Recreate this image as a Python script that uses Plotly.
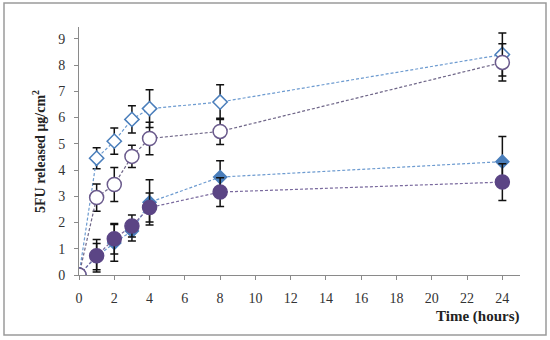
import plotly.graph_objects as go

# ---- data ----
time = [0, 1, 2, 3, 4, 8, 24]

open_diamond = [0, 4.45, 5.1, 5.93, 6.34, 6.59, 8.40]
open_diamond_err = [0, 0.4, 0.5, 0.52, 0.72, 0.66, 0.82]

open_circle = [0, 2.95, 3.45, 4.52, 5.2, 5.47, 8.10]
open_circle_err = [0, 0.52, 0.65, 0.42, 0.62, 0.5, 0.71]

filled_diamond = [0, 0.7, 1.22, 1.68, 2.77, 3.73, 4.32]
filled_diamond_err = [0, 0.5, 0.7, 0.38, 0.86, 0.62, 0.96]

filled_circle = [0, 0.73, 1.38, 1.87, 2.57, 3.16, 3.54]
filled_circle_err = [0, 0.62, 0.58, 0.42, 0.55, 0.55, 0.70]

x_ticks = list(range(0, 25, 2))
y_ticks = list(range(0, 10))

FONT = "Liberation Serif"
BLUE = "#4a7ebb"
PURPLE = "#5b4585"

fig = go.Figure()

def add(y, err, symbol, fill, lcolor, size, line_color):
    fig.add_trace(go.Scatter(
        x=time, y=y, mode="lines+markers",
        line=dict(color=line_color, width=1.2, dash="3px,2px"),
        marker=dict(symbol=symbol, size=size, color=fill,
                    line=dict(color=lcolor, width=1.5)),
        error_y=dict(type="data", array=err, color="#111111", thickness=1.5, width=4),
        showlegend=False,
    ))

add(filled_diamond, filled_diamond_err, "diamond", BLUE, BLUE, 10, "#6d9bd0")
add(filled_circle, filled_circle_err, "circle", PURPLE, PURPLE, 14, "#7a6a9e")
add(open_diamond, open_diamond_err, "diamond", "white", BLUE, 11, "#6d9bd0")
add(open_circle, open_circle_err, "circle", "white", "#6a5a8c", 14, "#6f6688")

L, R, T, B = 79, 30, 27, 65
W, H = 550, 340
pw, ph = W - L - R, H - T - B

def px_to_paper_x(px):
    return (px - L) / pw

def px_to_paper_y(py):
    return (H - B - py) / ph

fig.add_shape(type="rect", xref="paper", yref="paper",
              x0=px_to_paper_x(4), x1=px_to_paper_x(546),
              y0=px_to_paper_y(335), y1=px_to_paper_y(3),
              line=dict(color="#9a9a9a", width=1.5), layer="below")

fig.add_annotation(text="<b>Time (hours)</b>", xref="paper", yref="paper",
                   x=px_to_paper_x(521), y=px_to_paper_y(316),
                   xanchor="right", yanchor="middle", showarrow=False,
                   font=dict(family=FONT, size=15, color="#222"))
fig.add_annotation(text="<b>5FU released μg/cm<sup>2</sup></b>", xref="paper", yref="paper",
                   x=px_to_paper_x(39), y=px_to_paper_y(152),
                   xanchor="center", yanchor="middle", showarrow=False, textangle=-90,
                   font=dict(family=FONT, size=14, color="#222"))

fig.update_layout(
    width=W, height=H,
    margin=dict(l=L, r=R, t=T, b=B, autoexpand=False),
    paper_bgcolor="white", plot_bgcolor="white",
    font=dict(family=FONT, size=14, color="#333"),
    xaxis=dict(range=[0, 25], tickvals=x_ticks, showgrid=False, zeroline=False,
               showline=True, linecolor="#8a8a8a", linewidth=1, automargin=False,
               ticks="outside", ticklen=4, tickcolor="#8a8a8a", ticklabelstandoff=6,
               tickfont=dict(family=FONT, size=14, color="#333")),
    yaxis=dict(range=[0, 9.45], tickvals=y_ticks, showgrid=False, zeroline=False,
               showline=True, linecolor="#8a8a8a", linewidth=1, automargin=False,
               ticks="outside", ticklen=4, tickcolor="#8a8a8a", ticklabelstandoff=6,
               tickfont=dict(family=FONT, size=14, color="#333")),
)

fig.write_html("out.html", config={"displayModeBar": False},
               post_script="document.body.style.margin='0';document.body.style.overflow='hidden';")
